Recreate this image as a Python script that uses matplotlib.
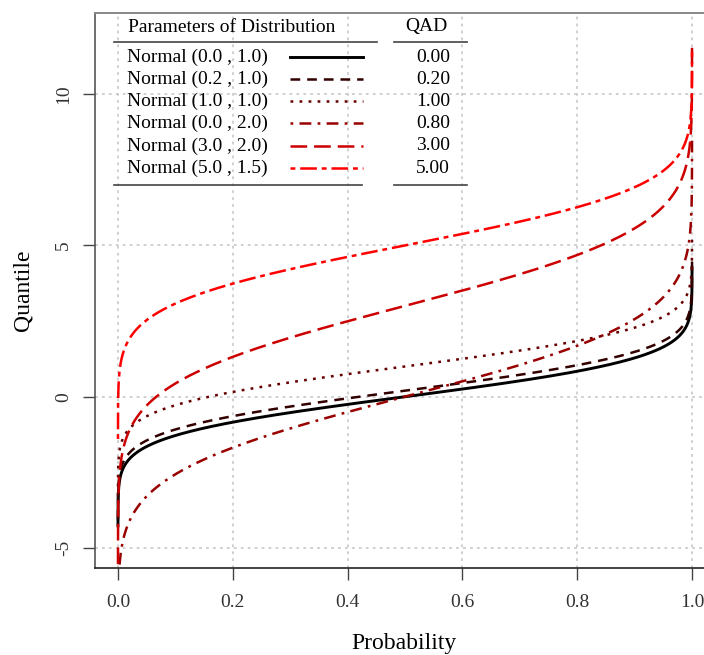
import numpy as np
import matplotlib
matplotlib.use("Agg")
import matplotlib.pyplot as plt
from matplotlib.lines import Line2D
from statistics import NormalDist

# parametres des lois normales tracees
labels = ["Normal (0.0 , 1.0)", "Normal (0.2 , 1.0)", "Normal (1.0 , 1.0)",
          "Normal (0.0 , 2.0)", "Normal (3.0 , 2.0)", "Normal (5.0 , 1.5)"]
means = [0.0, 0.2, 1.0, 0.0, 3.0, 5.0]
sds = [1.0, 1.0, 1.0, 2.0, 2.0, 1.5]
qad = [0.00, 0.20, 1.00, 0.80, 3.00, 5.00]

xticks = [0.0, 0.2, 0.4, 0.6, 0.8, 1.0]
yticks = [-5, 0, 5, 10]

colors = ['#000000', '#330000', '#660000', '#990000', '#cc0000', '#ff0000']
dashes = [None, (7, 5), (2, 4.5), (2, 4.5, 8.5, 4.5), (12, 5), (3.5, 3.5, 12, 3.5)]
widths = [2.1, 1.8, 1.8, 1.8, 1.8, 1.8]

plt.rcParams['font.family'] = ['Liberation Serif', 'DejaVu Serif']
plt.rcParams['lines.scale_dashes'] = False

W, H = 704, 655
def fx(px):
    return px / W
def fy(py):
    return 1 - py / H

fig = plt.figure(figsize=(W / 100, H / 100), dpi=100)
ax = fig.add_axes([fx(95), fy(568), fx(715) - fx(95), fy(13) - fy(568)])

# grille de probabilites, plus dense aux extremites
p = np.unique(np.concatenate([np.logspace(-5, -1, 400), np.linspace(0.1, 0.9, 400),
                              1 - np.logspace(-5, -1, 400)]))

for m, s, c, d, w in zip(means, sds, colors, dashes, widths):
    dist = NormalDist(m, s)
    q = [dist.inv_cdf(pi) for pi in p]
    ls = '-' if d is None else (0, d)
    ax.plot(p, q, color=c, lw=w, linestyle=ls, zorder=3)

ax.set_xlim(-0.04, 1.04)
ax.set_ylim(-5.66, 12.68)
ax.set_xticks(xticks)
ax.set_xticklabels(['%.1f' % v for v in xticks])
ax.set_yticks(yticks)
ax.set_yticklabels([str(v) for v in yticks], rotation=90, va='center')
ax.grid(color='#c8c8c8', linestyle=(0, (2, 3)), lw=1.2, zorder=0)

ax.tick_params(axis='both', direction='out', length=8.5, width=1.0, color='#444444',
               labelsize=14, labelcolor='#333333')
ax.tick_params(axis='x', pad=10)
ax.tick_params(axis='y', pad=8)
ax.spines['top'].set_color('#888888')
ax.spines['top'].set_linewidth(1.4)
ax.spines['left'].set_color('#555555')
ax.spines['left'].set_linewidth(1.2)
ax.spines['bottom'].set_color('#222222')
ax.spines['bottom'].set_linewidth(1.2)

fig.text(fx(404), fy(644), "Probability", ha='center', va='center', fontsize=17)
fig.text(fx(23), fy(290), "Quantile", ha='center', va='center', rotation=90, fontsize=17)

# legende sous forme de tableau
fs = 14
fig.text(fx(128), fy(27), "Parameters of Distribution", ha='left', va='center', fontsize=fs)
fig.text(fx(426), fy(26), "QAD", ha='center', va='center', fontsize=fs)
for x0, x1, y in [(114, 377, 41.5), (394, 467, 41.5), (114, 362, 185.5), (394, 467, 185.5)]:
    fig.add_artist(Line2D([fx(x0), fx(x1)], [fy(y), fy(y)], color='#444444', lw=1.2))

row_y = [57, 79, 101, 123, 146, 168]
for lab, v, c, d, w, y in zip(labels, qad, colors, dashes, widths, row_y):
    fig.text(fx(127), fy(y), lab, ha='left', va='center', fontsize=fs)
    fig.text(fx(450), fy(y), '%.2f' % v, ha='right', va='center', fontsize=fs)
    ls = '-' if d is None else (0, d)
    fig.add_artist(Line2D([fx(290), fx(363)], [fy(y), fy(y)], color=c, lw=w, linestyle=ls))

fig.savefig("out.png", dpi=100)
